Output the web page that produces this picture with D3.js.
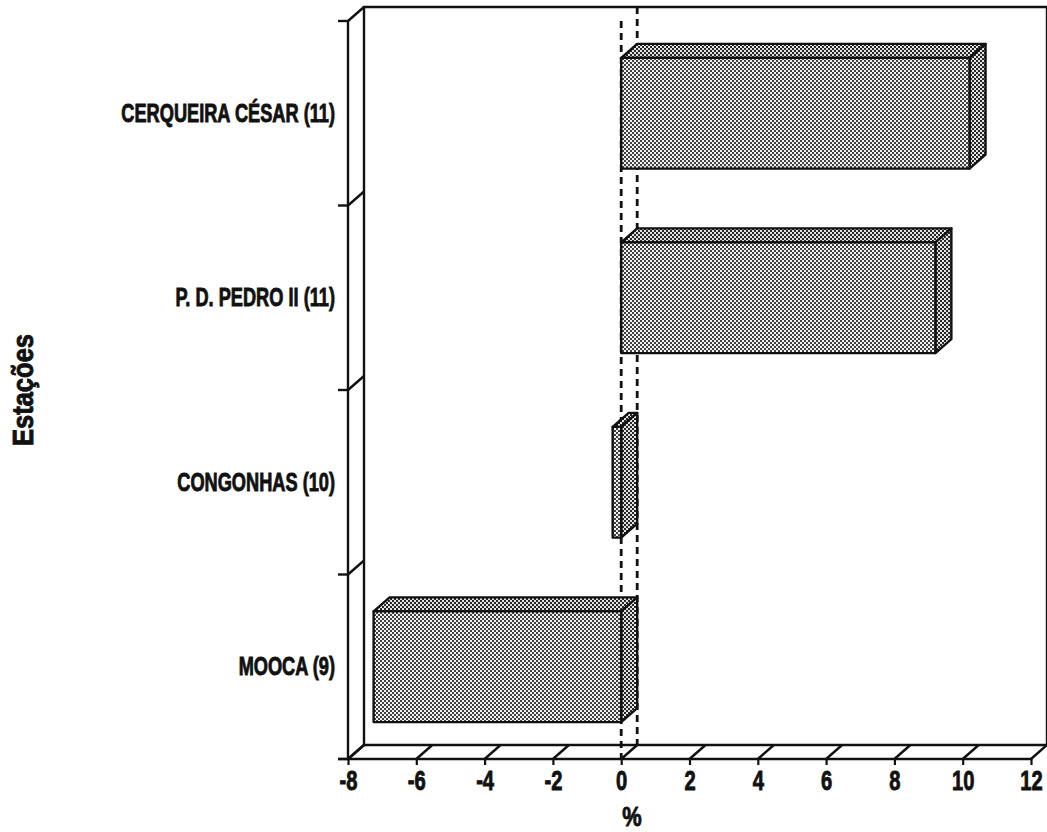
<!DOCTYPE html>
<html>
<head>
<meta charset="utf-8">
<script src="https://cdn.jsdelivr.net/npm/d3@7"></script>
<style>
  html, body { margin: 0; padding: 0; background: #fff; }
  svg { display: block; }
  .lbl { font-family: "Liberation Sans", Arial, "Helvetica Neue", sans-serif; font-weight: bold; fill: #111; stroke: #111; stroke-width: 0.9; }
</style>
</head>
<body>
<svg id="chart" width="1047" height="832"></svg>
<script>
// Stations and their percentage values
const categories = ["CERQUEIRA CÉSAR (11)", "P. D. PEDRO II (11)", "CONGONHAS (10)", "MOOCA (9)"];
const values = [10.2, 9.2, -0.25, -7.25];
const xTicks = [-8, -6, -4, -2, 0, 2, 4, 6, 8, 10, 12];
const xTitle = "%";
const yTitle = "Estações";

const svg = d3.select("#chart");

// Front plane geometry and 3D depth offset
const pLeft = 348, pRight = 1031, pTop = 21, pBottom = 759;
const DX = 16, DY = -14;

const x = d3.scaleLinear().domain([-8, 12]).range([pLeft, pRight]);
const y = d3.scaleBand().domain(categories).range([pTop, pBottom])
  .paddingInner(0.4).paddingOuter(0.2);

// Squeeze text horizontally around its anchor point (condensed type)
function condense(sel, k) {
  sel.each(function () {
    const t = d3.select(this);
    const tx = +t.attr("x") || 0;
    t.attr("x", 0).attr("transform", `translate(${tx},0) scale(${k},1)`);
  });
}

// Stipple fills for the bars
const defs = svg.append("defs");
function stipple(id, light, dark) {
  const p = defs.append("pattern").attr("id", id)
    .attr("patternUnits", "userSpaceOnUse").attr("width", 4).attr("height", 4);
  p.append("rect").attr("width", 4).attr("height", 4).attr("fill", light);
  p.append("rect").attr("x", 0).attr("y", 0).attr("width", 2).attr("height", 2).attr("fill", dark);
  p.append("rect").attr("x", 2).attr("y", 2).attr("width", 2).attr("height", 2).attr("fill", dark);
}
stipple("stipple", "#f2f2f2", "#404040");
stipple("stippleDark", "#e4e4e4", "#262626");

const frame = svg.append("g").attr("stroke", "#111").attr("stroke-width", 2.4).attr("fill", "none");

// Back wall
frame.append("path").attr("d",
  `M${pLeft + DX},${pBottom + DY}V${pTop + DY}H${pRight + DX}V${pBottom + DY}`);
// Floor back edge
frame.append("line").attr("x1", pLeft + DX).attr("x2", pRight + DX)
  .attr("y1", pBottom + DY).attr("y2", pBottom + DY);
// Left wall front edge
frame.append("line").attr("x1", pLeft).attr("x2", pLeft).attr("y1", pTop).attr("y2", pBottom);
// Floor front edge (extends to the left tick)
frame.append("line").attr("x1", pLeft - 10).attr("x2", pRight).attr("y1", pBottom).attr("y2", pBottom);

// Floor grid diagonals at each x tick
frame.selectAll("line.fdiag").data(xTicks).join("line").attr("class", "fdiag")
  .attr("x1", d => x(d)).attr("y1", pBottom)
  .attr("x2", d => x(d) + DX).attr("y2", pBottom + DY);

// Left wall diagonals and ticks at category boundaries
const bounds = d3.range(categories.length + 1).map(i => pTop + i * y.step());
frame.selectAll("line.wdiag").data(bounds).join("line").attr("class", "wdiag")
  .attr("x1", pLeft).attr("y1", d => d)
  .attr("x2", pLeft + DX).attr("y2", d => d + DY);
frame.selectAll("line.wtick").data(bounds).join("line").attr("class", "wtick")
  .attr("x1", pLeft - 10).attr("y1", d => d)
  .attr("x2", pLeft).attr("y2", d => d);

// Zero reference lines (front and back)
const zero = svg.append("g").attr("stroke", "#111").attr("stroke-width", 2.8)
  .attr("stroke-dasharray", "7,5").attr("fill", "none");
zero.append("line").attr("x1", x(0)).attr("x2", x(0)).attr("y1", pTop).attr("y2", pBottom);
zero.append("line").attr("x1", x(0) + DX).attr("x2", x(0) + DX).attr("y1", pTop + DY).attr("y2", pBottom + DY);

// Bars as 3D boxes
const bars = svg.append("g").attr("stroke", "#111").attr("stroke-width", 2.4).attr("stroke-linejoin", "round");
categories.forEach((c, i) => {
  const v = values[i];
  const x0 = x(Math.min(0, v)), x1 = x(Math.max(0, v));
  const y0 = y(c), y1 = y(c) + y.bandwidth();
  const g = bars.append("g");
  // top face
  g.append("path").attr("fill", "url(#stippleDark)")
    .attr("d", `M${x0},${y0}L${x0 + DX},${y0 + DY}L${x1 + DX},${y0 + DY}L${x1},${y0}Z`);
  // right side face
  g.append("path").attr("fill", "url(#stippleDark)")
    .attr("d", `M${x1},${y0}L${x1 + DX},${y0 + DY}L${x1 + DX},${y1 + DY}L${x1},${y1}Z`);
  // front face
  g.append("rect").attr("fill", "url(#stipple)")
    .attr("x", x0).attr("y", y0).attr("width", x1 - x0).attr("height", y1 - y0);
});

// X axis ticks and labels
const xAxis = svg.append("g").attr("transform", `translate(0,${pBottom})`)
  .call(d3.axisBottom(x).tickValues(xTicks).tickSize(6).tickPadding(5).tickFormat(d => String(d)));
xAxis.select(".domain").remove();
xAxis.selectAll(".tick line").attr("stroke", "#111").attr("stroke-width", 2.2);
xAxis.selectAll(".tick text").attr("class", "lbl").attr("font-size", 28)
  .attr("fill", "#111").attr("dy", "0.72em");
condense(xAxis.selectAll(".tick text"), 0.72);

// Category labels
const yAxis = svg.append("g").attr("transform", `translate(${pLeft},0)`)
  .call(d3.axisLeft(y).tickSize(0).tickPadding(13));
yAxis.select(".domain").remove();
yAxis.selectAll(".tick text").attr("class", "lbl").attr("font-size", 26).attr("fill", "#111");
condense(yAxis.selectAll(".tick text"), 0.7);

// Axis titles
const xt = svg.append("text").attr("class", "lbl").attr("x", 632).attr("y", 826)
  .attr("text-anchor", "middle").attr("font-size", 28).text(xTitle);
condense(xt, 0.78);
svg.append("text").attr("class", "lbl")
  .attr("transform", "translate(33,390) rotate(-90) scale(0.88,1)")
  .attr("text-anchor", "middle").attr("font-size", 29).text(yTitle);
</script>
</body>
</html>
